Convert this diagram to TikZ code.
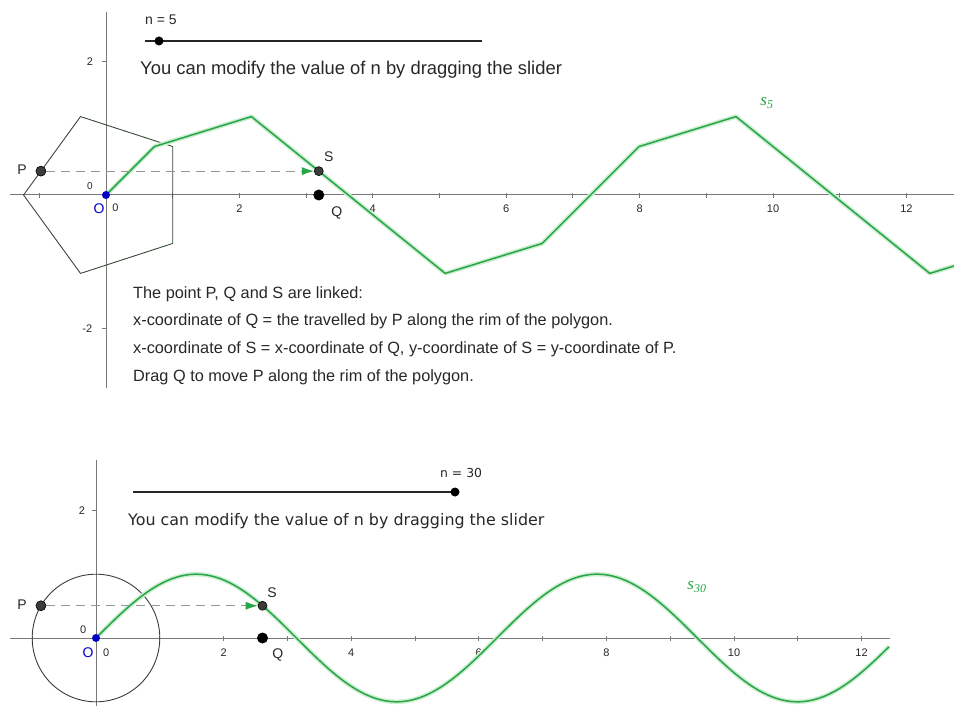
\documentclass[tikz,border=0pt]{standalone}
\usepackage{fontspec}
\setmainfont{Liberation Sans}
\newfontfamily\dejavu{DejaVu Sans}
\newfontfamily\serifit{Liberation Serif}
\usetikzlibrary{arrows.meta}
\definecolor{curvegreen}{RGB}{40,165,70}
\definecolor{halo}{RGB}{205,238,210}
\definecolor{axisgray}{RGB}{120,120,120}
\definecolor{polyline}{RGB}{55,75,55}
\definecolor{ptblue}{RGB}{0,0,200}
\definecolor{ptgray}{RGB}{60,60,60}
\definecolor{dashgray}{RGB}{150,150,150}
\definecolor{textgray}{RGB}{40,40,40}
\begin{document}
\begin{tikzpicture}[x=1pt,y=-1pt,
  axisline/.style={draw=axisgray,line width=1pt},
  tickmark/.style={draw=axisgray,line width=0.9pt},
  ticklbl/.style={font=\fontsize{11}{13}\selectfont,text=textgray,inner sep=0pt},
  ptlbl/.style={font=\fontsize{14}{16}\selectfont,text=textgray,inner sep=0pt},
  curvelbl/.style={font=\serifit\itshape\fontsize{17}{19}\selectfont,text=curvegreen,inner sep=0pt},
  bodytext/.style={font=\fontsize{16.3}{19}\selectfont,text=textgray,anchor=base west,inner sep=0pt},
  slidertext/.style={font=\fontsize{18.4}{21}\selectfont,text=textgray,anchor=base west,inner sep=0pt},
  slidertextb/.style={font=\dejavu\fontsize{15.9}{19}\selectfont,text=textgray,anchor=base west,inner sep=0pt},
  nlbl/.style={font=\fontsize{14}{16}\selectfont,text=textgray,anchor=base west,inner sep=0pt},
  nlblb/.style={font=\dejavu\fontsize{12.4}{15}\selectfont,text=textgray,anchor=base west,inner sep=0pt},
  sliderline/.style={draw=black!85,line width=2.8pt},
  sliderdot/.style={circle,fill=black,inner sep=0pt,minimum size=9pt},
  dotP/.style={circle,fill=ptgray,draw=black,line width=0.6pt,inner sep=0pt,minimum size=10pt},
  dotS/.style={circle,fill=ptgray,draw=black,line width=0.6pt,inner sep=0pt,minimum size=9pt},
  dotQ/.style={circle,fill=black,inner sep=0pt,minimum size=11pt},
  dotO/.style={circle,fill=ptblue,inner sep=0pt,minimum size=8pt},
  linkarrow/.style={draw=dashgray,line width=0.9pt,dash pattern=on 9pt off 6pt,
     -{Latex[length=12pt,width=8pt,color=curvegreen]}},
  curvehalo/.style={draw=halo,line width=4.5pt,line join=round},
  curveline/.style={draw=curvegreen,line width=1.5pt,line join=round}
]
\useasboundingbox (0,0) rectangle (954,706);
\fill[white] (0,0) rectangle (954,706);

% ================= TOP GRAPH (n = 5) =================
\draw[axisline] (10,195) -- (954,195);
\draw[axisline] (106,12) -- (106,388);

\coordinate (s1a) at (145,41);
\coordinate (s1b) at (482,41);
\draw[sliderline] (s1a) -- (s1b);
\node[sliderdot] (sd1) at (159,41) {};
\node[nlbl] (n1) at (145,25) {n = 5};
\node[slidertext] (t1) at (140,75) {You can modify the value of n by dragging the slider};

\begin{scope}[shift={(106,195)},x=66.7pt,y=66.7pt]
  \foreach \i in {-1,...,12} \draw[tickmark] (\i,2pt) -- ++(0,-5pt);
  \foreach \i in {2,4,...,12} \node[ticklbl] (tx\i) at (\i,-0.2) {\i};
  \draw[tickmark] (0,2) -- ++(-4pt,0);
  \draw[tickmark] (0,-2) -- ++(-4pt,0);
  \node[ticklbl] (ty2) at (-0.24,2) {2};
  \node[ticklbl] (tym2) at (-0.28,-2) {-2};
  \node[ticklbl,font=\fontsize{10}{12}\selectfont] (oy) at (-0.24,0.135) {0};
  \node[ticklbl] (ox) at (0.14,-0.195) {0};
  % pentagon
  \draw[polyline,line width=0.9pt,line join=round]
     (-1.236,0) -- (-0.382,1.1756) -- (1,0.7265) -- (1,-0.7265) -- (-0.382,-1.1756) -- cycle;
  % curve s5
  \draw[curvehalo] (0,0) -- (0.7265,0.7265) -- (2.1797,1.1756) -- (3.6327,0) -- (5.0857,-1.1756)
     -- (6.539,-0.7265) -- (7.2654,0) -- (7.992,0.7265) -- (9.445,1.1756) -- (10.898,0)
     -- (12.351,-1.1756) -- (12.72,-1.062);
  \draw[curveline] (0,0) -- (0.7265,0.7265) -- (2.1797,1.1756) -- (3.6327,0) -- (5.0857,-1.1756)
     -- (6.539,-0.7265) -- (7.2654,0) -- (7.992,0.7265) -- (9.445,1.1756) -- (10.898,0)
     -- (12.351,-1.1756) -- (12.72,-1.062);
  \node[curvelbl] (s5) at (9.91,1.38) {s\textsubscript{5}};
  % points
  \node[dotO] (O1) at (0,0) {};
  \node[dotP] (P1) at (-0.976,0.358) {};
  \node[dotS] (S1) at (3.19,0.358) {};
  \node[dotQ] (Q1) at (3.19,0) {};
  \draw[linkarrow] (P1) -- (S1);
  \node[ptlbl] (P1l) at (-1.26,0.375) {P};
  \node[ptlbl] (S1l) at (3.34,0.57) {S};
  \node[ptlbl] (Q1l) at (3.46,-0.27) {Q};
  \node[ptlbl,text=ptblue] (O1l) at (-0.105,-0.2) {O};
\end{scope}

\node[bodytext] (b1) at (133,298) {The point P, Q and S are linked:};
\node[bodytext] (b2) at (133,325) {x-coordinate of Q = the travelled by P along the rim of the polygon.};
\node[bodytext] (b3) at (133,353) {x-coordinate of S = x-coordinate of Q, y-coordinate of S = y-coordinate of P.};
\node[bodytext] (b4) at (133,381) {Drag Q to move P along the rim of the polygon.};

% ================= BOTTOM GRAPH (n = 30) =================
\draw[axisline] (10,638) -- (890,638);
\draw[axisline] (96,460) -- (96,706);

\coordinate (s2a) at (133,492);
\coordinate (s2b) at (455,492);
\draw[sliderline] (s2a) -- (s2b);
\node[sliderdot] (sd2) at (455,492) {};
\node[nlblb] (n2) at (440,477) {n = 30};
\node[slidertextb] (t2) at (128,525) {You can modify the value of n by dragging the slider};

\begin{scope}[shift={(96,638)},x=63.8pt,y=63.8pt]
  \foreach \i in {-1,...,12} \draw[tickmark] (\i,2pt) -- ++(0,-5pt);
  \foreach \i in {2,4,...,12} \node[ticklbl] (ux\i) at (\i,-0.235) {\i};
  \draw[tickmark] (0,2) -- ++(-4pt,0);
  \node[ticklbl] (uy2) at (-0.22,2) {2};
  \node[ticklbl] (uoy) at (-0.2,0.13) {0};
  \node[ticklbl] (uox) at (0.16,-0.235) {0};
  % circle
  \draw[draw=ptgray,line width=0.9pt] (0,0) circle (1);
  % curve s30
  \draw[curvehalo] plot[domain=0:12.43,samples=160,smooth] (\x,{sin(\x r)});
  \draw[curveline] plot[domain=0:12.43,samples=160,smooth] (\x,{sin(\x r)});
  \node[curvelbl] (s30) at (9.42,0.8) {s\textsubscript{30}};
  % points
  \node[dotO] (O2) at (0,0) {};
  \node[dotP] (P2) at (-0.8628,0.5055) {};
  \node[dotS] (S2) at (2.61,0.5055) {};
  \node[dotQ] (Q2) at (2.61,0) {};
  \draw[linkarrow] (P2) -- (S2);
  \node[ptlbl] (P2l) at (-1.16,0.52) {P};
  \node[ptlbl] (S2l) at (2.76,0.705) {S};
  \node[ptlbl] (Q2l) at (2.85,-0.27) {Q};
  \node[ptlbl,text=ptblue] (O2l) at (-0.125,-0.235) {O};
\end{scope}
\end{tikzpicture}
\end{document}
